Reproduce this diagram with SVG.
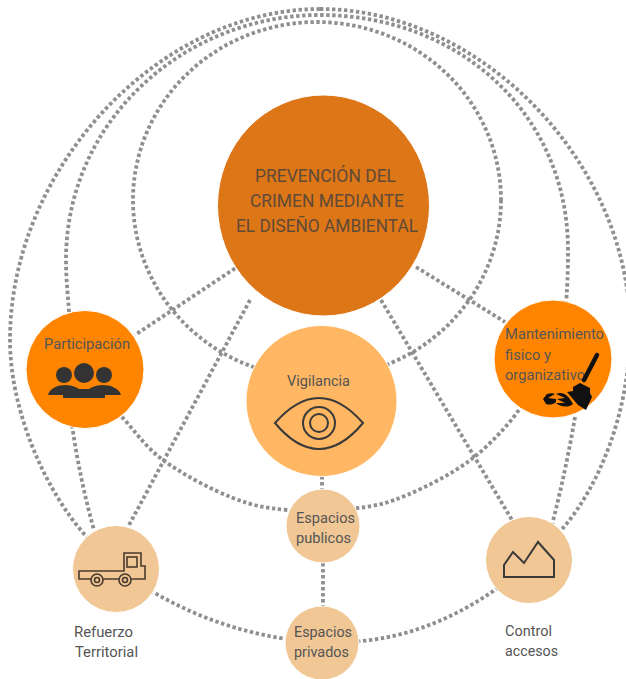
<svg xmlns="http://www.w3.org/2000/svg" width="626" height="679" viewBox="0 0 626 679">
<style>
.c{fill:none;stroke:#8f8f8f;stroke-width:3.8;stroke-dasharray:3.4 2.6}
.t{font-family:"Roboto","Liberation Sans",sans-serif;font-weight:400;fill:#555;font-size:15px}
.m{font-size:18px;fill:#5f4a38}
.d{fill:#333;stroke:none}
.i{fill:none;stroke:#3a3a3a;stroke-width:2}
.k{fill:none;stroke:#4a3b2e;stroke-width:1.6}
.n{stroke:#fff;stroke-width:1}
</style>
<rect width="626" height="679" fill="#fff"/>
<g id="connectors">
<path class="c" d="M320 9C481 9 630 163 630 330C630 410 600 485 563 528C510 590 430 642 340 642C235 645 130 592 85 535C45 490 10 410 10 340C10 168 159 9 320 9Z"/>
<path class="c" d="M69 312C68 295 66 280 66 260C66 120 185 15 320 15C460 15 568 115 568 250C568 275 567 290 566 305"/>
<path class="c" d="M522 405C514 419 492 443 473 458S426 487 407 495S378 505.500 358 508S308 512 287 510S254 506 233 498S182 474 163 460S133 428 120 415"/>
<ellipse class="c" cx="317" cy="200" rx="184" ry="178"/>
<path class="c" d="M240 265L135 335"/>
<path class="c" d="M416 267L505 322"/>
<path class="c" d="M250 300L128 527"/>
<path class="c" d="M381 300L512 520"/>
<path class="c" d="M72 425Q80 480 94 530"/>
<path class="c" d="M575 417Q566 470 552 525"/>
<path class="c" d="M322 476V490"/>
<path class="c" d="M323 563V607"/>
</g>
<g id="prevencion">
<ellipse class="n" cx="323.500" cy="205.500" rx="106" ry="110.500" fill="#dd7617"/>
<text class="t m" x="255" y="182" textLength="141" lengthAdjust="spacingAndGlyphs">PREVENCIÓN DEL</text>
<text class="t m" x="250" y="207" textLength="154" lengthAdjust="spacingAndGlyphs">CRIMEN MEDIANTE</text>
<text class="t m" x="236" y="232" textLength="182" lengthAdjust="spacingAndGlyphs">EL DISEÑO AMBIENTAL</text>
</g>
<g id="participacion">
<circle class="n" cx="85" cy="369.500" r="59" fill="#ff8500"/>
<text class="t" x="44" y="349" textLength="86" lengthAdjust="spacingAndGlyphs">Participación</text>
<circle class="d" cx="84" cy="373" r="10"/>
<circle class="d" cx="64" cy="375" r="8"/>
<circle class="d" cx="104" cy="375" r="8"/>
<path class="d" d="M48 395C50 388 58 385 65 385C71 385 76 387 79 389H89C92 387 97 385 103 385C110 385 119 388 121 395H105V398H63V395Z"/>
</g>
<g id="vigilancia">
<circle class="n" cx="321.500" cy="401" r="75.500" fill="#ffb763"/>
<text class="t" x="287" y="386" textLength="63" lengthAdjust="spacingAndGlyphs">Vigilancia</text>
<path class="i" d="M275 423C290 406 305 398 319 398C333 398 348 406 363 423C348 441 333 449 319 449C305 449 290 441 275 423Z"/>
<circle class="i" cx="319" cy="423" r="16"/>
<circle class="i" cx="319" cy="423" r="9"/>
</g>
<g id="mantenimiento">
<circle class="n" cx="553" cy="359" r="59" fill="#ff8500"/>
<text class="t" x="505" y="339" textLength="99" lengthAdjust="spacingAndGlyphs">Mantenimiento</text>
<text class="t" x="505" y="360" textLength="46" lengthAdjust="spacingAndGlyphs">fisico y</text>
<text class="t" x="505" y="380" textLength="80" lengthAdjust="spacingAndGlyphs">organizativo</text>
<path d="M597 355L584 380" fill="none" stroke="#111" stroke-width="4.500" stroke-linecap="round"/>
<path fill="#111" d="M573 387L580 383L590 388L590 393L592 397L586 410L578 405L567 392L573 391Z"/>
<path fill="#111" d="M547 394C550 393 553 393 555 394L548 398L556 399L556 402C553 405 549 405 546 404L543 399Z"/>
<path fill="#111" d="M556 394C562 391 568 394 573 404C568 408 560 407 556 403L565 403L557 399L565 398Z"/>
</g>
<g id="espacios-publicos">
<circle class="n" cx="323" cy="526" r="37" fill="#f0c795"/>
<text class="t" x="296" y="523" textLength="59" lengthAdjust="spacingAndGlyphs">Espacios</text>
<text class="t" x="296" y="543" textLength="55" lengthAdjust="spacingAndGlyphs">publicos</text>
</g>
<g id="espacios-privados">
<circle class="n" cx="322" cy="643" r="37" fill="#f0c795"/>
<text class="t" x="294" y="637" textLength="58" lengthAdjust="spacingAndGlyphs">Espacios</text>
<text class="t" x="294" y="657" textLength="55" lengthAdjust="spacingAndGlyphs">privados</text>
</g>
<g id="refuerzo-territorial">
<circle class="n" cx="116" cy="569" r="43.500" fill="#f0c795"/>
<path class="k" d="M79 571H124V553H141V566H145V579H79Z"/>
<rect class="k" x="127" y="557" width="10" height="10"/>
<circle cx="97" cy="580" r="6" fill="#f0c795" stroke="#4a3b2e" stroke-width="1.600"/>
<circle cx="125" cy="580" r="6" fill="#f0c795" stroke="#4a3b2e" stroke-width="1.600"/>
<circle class="k" cx="97" cy="580" r="2.500"/>
<circle class="k" cx="125" cy="580" r="2.500"/>
<text class="t" x="74" y="637" textLength="59" lengthAdjust="spacingAndGlyphs">Refuerzo</text>
<text class="t" x="75" y="657" textLength="63" lengthAdjust="spacingAndGlyphs">Territorial</text>
</g>
<g id="control-accesos">
<circle class="n" cx="529" cy="560" r="43.500" fill="#f0c795"/>
<path class="i" d="M504 577V565L513 552L524 563L538 542L554 560V577Z"/>
<text class="t" x="505" y="636" textLength="47" lengthAdjust="spacingAndGlyphs">Control</text>
<text class="t" x="505" y="656" textLength="53" lengthAdjust="spacingAndGlyphs">accesos</text>
</g>
</svg>
